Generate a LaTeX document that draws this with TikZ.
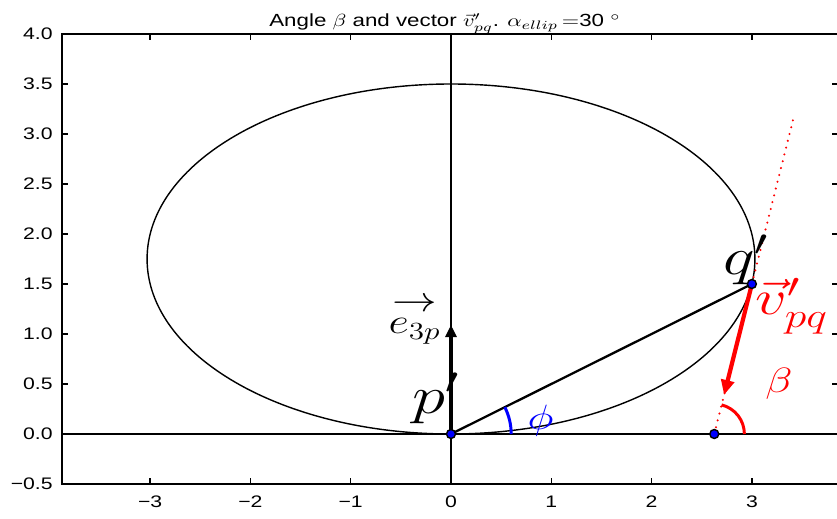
\RequirePackage{fix-cm}
\documentclass[tikz,border=0pt]{standalone}
\usepackage{amsmath}
\usepackage[no-math]{fontspec}
\setmainfont{Liberation Sans}
\usepackage{graphicx}
\usetikzlibrary{arrows.meta}
\newcommand\hstretch[1]{\scalebox{1.27}[1]{#1}}
\begin{document}
\begin{tikzpicture}[x=2.006cm,y=2cm,
  spine/.style={line width=0.9pt},
  tickmark/.style={line width=0.8pt},
  axline/.style={line width=1.2pt},
  ticklab/.style={font=\fontsize{9.5}{11}\selectfont, inner sep=0pt},
  dotnode/.style={circle, fill=blue, draw=black, line width=0.8pt, minimum size=0.18cm, inner sep=0pt},
  biglab/.style={font=\fontsize{30}{32}\selectfont, inner sep=0pt, anchor=base west},
  midlab/.style={font=\fontsize{20}{22}\selectfont, inner sep=0pt, anchor=base west},
  vecarrow/.style={line width=2.4pt, -{Triangle[length=0.3cm,width=0.26cm]}},
  earrow/.style={line width=2.6pt, -{Triangle[length=0.24cm,width=0.22cm]}},
  tangent/.style={red, line width=1.3pt, dash pattern=on 0pt off 4pt, line cap=round},
  anglearc/.style={line width=1.7pt}
]
\useasboundingbox (-4.4965,-0.84) rectangle (3.8485,4.34);
% named points
\coordinate (P) at (0,0);
\coordinate (Q) at (3,1.5);
\coordinate (T) at (2.625,0);
\coordinate (Ttop) at (3.41,3.14);
\coordinate (Vtip) at (2.7225,0.39);
\coordinate (Etip) at (0,1.09);
\coordinate (XL) at (-3.878,0);
\coordinate (XR) at (3.86,0);
\coordinate (YB) at (0,-0.5);
\coordinate (YT) at (0,4);
% frame
\draw[spine] (-3.878,-0.5) rectangle (3.86,4);
% ticks and labels
\foreach \x/\lab [count=\i] in {-3/−3,-2/−2,-1/−1,0/0,1/1,2/2,3/3}{
  \draw[tickmark] (\x,-0.5) -- ++(0,0.06);
  \draw[tickmark] (\x,4) -- ++(0,-0.06);
  \node[ticklab, anchor=base] (xl\i) at (\x,-0.73) {\hstretch{\lab}};
}
\foreach \y/\lab [count=\i] in {-0.5/−0.5,0/0.0,0.5/0.5,1/1.0,1.5/1.5,2/2.0,2.5/2.5,3/3.0,3.5/3.5,4/4.0}{
  \draw[tickmark] (-3.878,\y) -- ++(0.06,0);
  \draw[tickmark] (3.86,\y) -- ++(-0.06,0);
  \node[ticklab, anchor=east] (yl\i) at (-3.968,\y) {\hstretch{\lab}};
}
% title
\node[font=\fontsize{10}{12}\selectfont, anchor=base, inner sep=0pt] (title) at (-0.06,4.07)
  {\hstretch{Angle $\beta$ and vector $\vec{v}'_{pq}$. $\alpha_{ellip}\,{=}$30$\;^\circ$}};
% ellipse
\draw[line width=0.8pt] (0,1.75) ellipse [x radius=3.03, y radius=1.75];
% axis lines
\draw[axline] (XL) -- (XR);
\draw[axline] (YB) -- (YT);
% segment p'q'
\draw[line width=1.3pt] (P) -- (Q);
% angle arcs
\draw[anglearc, blue] ([shift={(0.6,0)}]P) arc[start angle=0, end angle=26.57, radius=0.6];
\draw[anglearc, red] ([shift={(0.3,0)}]T) arc[start angle=0, end angle=75.96, radius=0.3];
% vectors
\draw[earrow] (P) -- (Etip);
\draw[vecarrow, red] (Q) -- (Vtip);
% tangent
\draw[tangent] (T) -- (Ttop);
% dots
\node[dotnode] (p) at (P) {};
\node[dotnode] (q) at (Q) {};
\node[dotnode] (t) at (T) {};
% labels
\node[biglab] (plab) at (-0.39,0.21) {\hstretch{$p'$}};
\node[biglab] (qlab) at (2.71,1.59) {\hstretch{$q'$}};
\node[biglab, red, font=\fontsize{28}{30}\selectfont] (vlab) at (3.03,1.19) {\hstretch{$\vec{v}'_{pq}$}};
\node[midlab, anchor=base east] (elab) at (-0.1,1.0) {\hstretch{$\overset{\textstyle\rightarrow}{e_{3p}}$}};
\node[midlab, blue] (philab) at (0.76,0.05) {\hstretch{$\phi$}};
\node[midlab, red] (betalab) at (3.13,0.41) {\hstretch{$\beta$}};
\end{tikzpicture}
\end{document}
